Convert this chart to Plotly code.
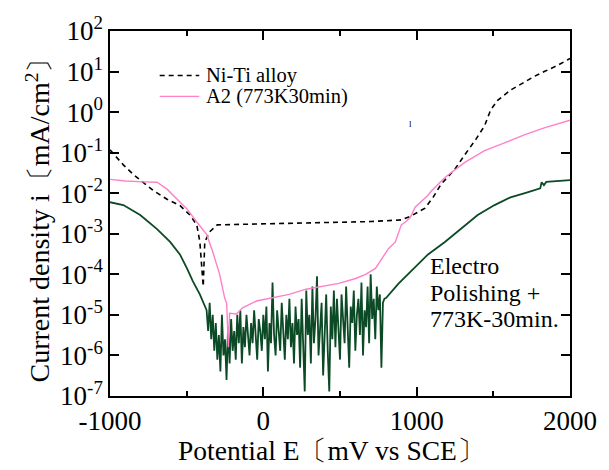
import plotly.graph_objects as go

# Anodic polarization curves of Ni-Ti, potential in mV vs SCE, current density in mA/cm^2

# Ni-Ti alloy (as received)
niti_E = [-1000, -913, -848, -783, -718, -628, -544, -479, -434, -414, -401, -392,
          -382, -350, -300, 0, 400, 700, 900, 960, 1055, 1107, 1159, 1249, 1314,
          1385, 1443, 1482, 1528, 1612, 1689, 1767, 1832, 1916, 2000]
niti_i = [0.117, 0.050, 0.029, 0.0186, 0.0117, 0.0071, 0.0050, 0.0029, 0.00166,
          6.3e-4, 1.4e-4, 5.0e-5, 6.3e-4, 1.12e-3, 1.66e-3, 1.74e-3, 1.9e-3,
          2.0e-3, 2.2e-3, 2.7e-3, 4.3e-3, 7.9e-3, 0.0166, 0.039, 0.089, 0.21,
          0.46, 1.12, 1.95, 3.5, 5.1, 7.6, 10.0, 14.0, 21.0]

# A2 (773K, 30 min heat treatment)
a2_E = [-1000, -900, -780, -693, -628, -563, -498, -434, -369, -330, -285, -252,
        -239, -228, -220, -175, -136, -45, 58, 168, 278, 382, 492, 602, 667, 731,
        770, 816, 861, 900, 926, 958, 990, 1074, 1094, 1184, 1314, 1443, 1573,
        1702, 1832, 2000]
a2_i = [0.022, 0.020, 0.019, 0.0186, 0.0126, 0.0071, 0.0041, 0.00195, 9.5e-4,
        3.6e-4, 1.0e-4, 2.6e-5, 1.9e-5, 1.6e-6, 1.1e-5, 1.05e-5, 1.5e-5, 2.2e-5,
        2.6e-5, 3.2e-5, 4.3e-5, 5.1e-5, 6.0e-5, 7.9e-5, 1.0e-4, 1.4e-4, 2.3e-4,
        4.3e-4, 6.3e-4, 1.66e-3, 1.95e-3, 2.5e-3, 4.5e-3, 8.9e-3, 0.0112, 0.0245,
        0.0575, 0.112, 0.174, 0.275, 0.41, 0.63]

# Electro polishing + 773K-30min: cathodic branch, noisy passive range, anodic branch
ep_E_low = [-1000, -913, -803, -693, -608, -544, -498, -460, -414, -380]
ep_i_low = [6.0e-3, 5.1e-3, 2.9e-3, 1.3e-3, 6.3e-4, 3.1e-4, 1.4e-4, 6.8e-5,
            3.2e-5, 1.5e-5]

ep_E_mid = list(range(-370, 800, 10))
ep_i_mid = [
    1.3e-5, 4.0e-6, 2.0e-5, 2.5e-6, 1.0e-5, 1.3e-6,
    6.3e-6, 7.9e-7, 3.2e-6, 4.0e-7, 1.0e-5, 1.0e-6, 2.5e-6, 2.5e-7, 5.0e-6,
    6.3e-7, 7.9e-6, 1.3e-6, 4.0e-6,
    7.9e-7, 1.0e-5, 2.0e-6, 1.3e-5, 6.3e-7, 5.0e-6, 1.6e-6, 1.0e-5, 3.2e-6,
    1.0e-6, 6.3e-6, 2.0e-6, 1.3e-5, 2.5e-6, 7.9e-7, 7.9e-6, 4.0e-6, 1.3e-6, 1.0e-5,
    2.5e-6, 1.6e-5, 4.0e-7, 6.3e-6, 2.0e-6, 6.3e-5, 3.2e-6, 1.0e-6, 1.3e-5,
    4.0e-6, 1.3e-6, 2.0e-5, 5.0e-6, 7.9e-7, 1.0e-5, 2.5e-6, 2.5e-5, 1.6e-6,
    6.3e-6, 6.3e-7, 1.6e-5, 3.2e-6, 7.9e-6,
    5.0e-7, 2.5e-5, 1.6e-6, 1.3e-7, 4.0e-5, 3.2e-6, 1.0e-5, 6.3e-7, 5.0e-5,
    2.0e-6, 7.9e-6, 8.9e-5, 1.0e-6, 4.0e-6, 2.0e-5, 3.2e-7, 6.3e-6, 3.2e-5,
    1.3e-6, 1.3e-7, 1.6e-5, 2.5e-6, 4.0e-5,
    1.6e-6, 2.5e-5, 5.0e-6, 7.9e-7, 3.2e-5, 1.0e-5, 2.0e-6, 5.0e-5, 4.0e-6,
    5.0e-7, 1.6e-5, 6.3e-6, 4.0e-5, 1.3e-6, 1.0e-5, 2.5e-5, 3.2e-6, 6.3e-5,
    1.0e-6, 1.3e-5, 5.0e-6, 5.0e-5, 2.0e-6, 1.0e-4, 7.9e-6, 2.5e-5, 2.5e-6,
    5.0e-5, 1.3e-5, 3.2e-5, 5.0e-7, 2.0e-5, 2.5e-5,
]

ep_E_high = [800, 880, 964, 1074, 1184, 1288, 1398, 1508, 1612, 1722, 1806, 1815,
             1830, 1845, 1935, 2000]
ep_i_high = [2.6e-5, 5.8e-5, 1.2e-4, 3.1e-4, 6.3e-4, 1.3e-3, 2.9e-3, 5.1e-3,
             7.9e-3, 0.0105, 0.0132, 0.0186, 0.0158, 0.019, 0.020, 0.021]

ep_E = ep_E_low + ep_E_mid + ep_E_high
ep_i = ep_i_low + ep_i_mid + ep_i_high

# Axis ticks
x_ticks = [-1000, 0, 1000, 2000]
x_ticktext = ["-1000", "0", "1000", "2000"]
y_exponents = [2, 1, 0, -1, -2, -3, -4, -5, -6, -7]
y_tickvals = [10.0 ** k for k in y_exponents]
y_ticktext = [f"10<sup>{k}</sup>" for k in y_exponents]

# Legend entries (drawn as line samples + labels inside the plot)
legend_labels = ["Ni-Ti alloy", "A2 (773K30min)"]

# Label for the electro-polished curve, one line per row
ep_label_lines = ["Electro", "Polishing +", "773K-30min."]

SERIF = "Liberation Serif"

NITI_LINE = dict(color="#000000", width=1.6, dash="5px,4px")
A2_LINE = dict(color="#ff80c8", width=1.4)
EP_LINE = dict(color="#0c4a26", width=1.8)

fig = go.Figure()

fig.add_trace(go.Scatter(x=ep_E, y=ep_i, mode="lines",
                         name="Electro Polishing + 773K-30min.", line=EP_LINE))
fig.add_trace(go.Scatter(x=niti_E, y=niti_i, mode="lines",
                         name=legend_labels[0], line=NITI_LINE))
fig.add_trace(go.Scatter(x=a2_E, y=a2_i, mode="lines",
                         name=legend_labels[1], line=A2_LINE))

# Compact in-plot legend
legend_rows_y = [0.878, 0.821]
for label, line, ly in zip(legend_labels, [NITI_LINE, A2_LINE], legend_rows_y):
    fig.add_shape(type="line", xref="paper", yref="paper",
                  x0=0.108, x1=0.194, y0=ly, y1=ly, line=line)
    fig.add_annotation(x=0.205, y=ly, xref="paper", yref="paper",
                       xanchor="left", yanchor="middle", text=label,
                       showarrow=False,
                       font=dict(family=SERIF, size=20.5, color="#000000"))

# Curve label, rows placed in log10 units of the current-density axis
ep_label_rows = [-3.80, -4.46, -5.10]
for txt, ly in zip(ep_label_lines, ep_label_rows):
    fig.add_annotation(
        x=1074, y=ly, xref="x", yref="y", xanchor="left", yanchor="middle",
        text=txt, showarrow=False,
        font=dict(family=SERIF, size=24, color="#000000"),
    )

fig.add_annotation(
    x=958, y=-0.29, xref="x", yref="y", text="l", showarrow=False,
    font=dict(family=SERIF, size=9, color="#000000"),
)

# x-axis title
fig.add_annotation(
    x=0.482, y=-0.148, xref="paper", yref="paper", xanchor="center",
    yanchor="middle", text="Potential E〔mV vs SCE〕", showarrow=False,
    font=dict(family=SERIF, size=27.5, color="#000000"),
)

axis_common = dict(
    showline=True, linecolor="#000000", linewidth=1.5, mirror="ticks",
    ticks="inside", tickcolor="#000000", tickwidth=1.5, ticklen=9,
    showgrid=False, zeroline=False,
    tickfont=dict(family=SERIF, size=27, color="#000000"),
)

fig.update_layout(
    width=609, height=470,
    margin=dict(l=110, r=36, t=27, b=74),
    paper_bgcolor="#ffffff", plot_bgcolor="#ffffff",
    showlegend=False,
    xaxis=dict(
        range=[-1000, 2000], tickvals=x_ticks, ticktext=x_ticktext,
        minor=dict(dtick=500, ticks="inside", ticklen=5, tickcolor="#000000",
                   tickwidth=1.5, showgrid=False),
        **axis_common,
    ),
    yaxis=dict(
        type="log", range=[-7, 2], tickvals=y_tickvals, ticktext=y_ticktext,
        ticklabelstandoff=0,
        title=dict(text="Current density i〔mA/cm<sup>2</sup>〕", standoff=2,
                   font=dict(family=SERIF, size=28, color="#000000")),
        **axis_common,
    ),
)

fig.write_html("out.html")
